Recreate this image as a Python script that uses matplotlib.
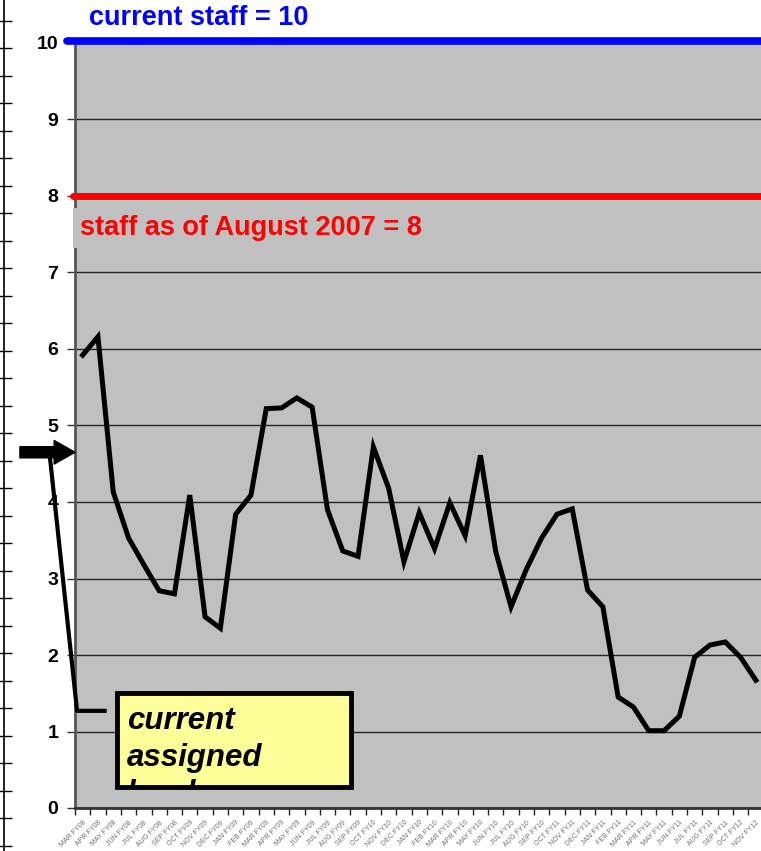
import numpy as np
import matplotlib
matplotlib.use('Agg')
import matplotlib.pyplot as plt
import matplotlib.transforms as mtransforms
from matplotlib.patches import Rectangle

plt.rcParams['font.family'] = ['Liberation Sans', 'DejaVu Sans']

# Monthly labels and assigned staff level
months = ['MAR FY08', 'APR FY08', 'MAY FY08', 'JUN FY08', 'JUL FY08', 'AUG FY08', 'SEP FY08',
          'OCT FY09', 'NOV FY09', 'DEC FY09', 'JAN FY09', 'FEB FY09', 'MAR FY09', 'APR FY09',
          'MAY FY09', 'JUN FY09', 'JUL FY09', 'AUG FY09', 'SEP FY09',
          'OCT FY10', 'NOV FY10', 'DEC FY10', 'JAN FY10', 'FEB FY10', 'MAR FY10', 'APR FY10',
          'MAY FY10', 'JUN FY10', 'JUL FY10', 'AUG FY10', 'SEP FY10',
          'OCT FY11', 'NOV FY11', 'DEC FY11', 'JAN FY11', 'FEB FY11', 'MAR FY11', 'APR FY11',
          'MAY FY11', 'JUN FY11', 'JUL FY11', 'AUG FY11', 'SEP FY11',
          'OCT FY12', 'NOV FY12']
staff = [5.92, 6.16, 4.13, 3.53, 3.18, 2.84, 2.80, 4.09, 2.50, 2.35, 3.84, 4.09, 5.22, 5.23,
         5.36, 5.24, 3.90, 3.36, 3.29, 4.72, 4.18, 3.22, 3.86, 3.39, 3.99, 3.56, 4.61, 3.35,
         2.63, 3.12, 3.53, 3.84, 3.91, 2.85, 2.63, 1.45, 1.32, 1.01, 1.01, 1.20, 1.97, 2.13,
         2.17, 1.97, 1.67]
current_staff = 10
aug2007_staff = 8
current_assigned = 4.65

fig = plt.figure(figsize=(7.61, 8.51), dpi=100)
ax = fig.add_axes([75 / 761, 43 / 851, 688.5 / 761, 765 / 851])
ax.set_facecolor('#C0C0C0')

x = np.arange(len(staff)) + 0.5
ax.plot(x, staff, color='black', lw=3.6, solid_joinstyle='miter', zorder=4)

ax.set_xlim(0, len(staff))
ax.set_ylim(0, 10)
ax.set_yticks(range(0, 11))
ax.set_yticklabels([str(i) for i in range(0, 11)], fontsize=14, fontweight='bold')
ax.tick_params(axis='y', length=6, width=1, pad=6, color='#333333')
ax.yaxis.grid(True, color='#222222', lw=1)
ax.set_axisbelow(True)

ax.set_xticks(np.arange(0, len(staff) + 1))
ax.set_xticklabels([])
ax.set_xticks(x, minor=True)
ax.set_xticklabels(months, minor=True, rotation=45, ha='right', va='top',
                   fontsize=5, color='#707070', rotation_mode='anchor')
ax.tick_params(axis='x', which='major', length=5, width=1, color='#222222')
ax.tick_params(axis='x', which='minor', length=0, pad=8)

for s in ['top', 'right']:
    ax.spines[s].set_visible(False)
ax.spines['left'].set_color('#555555')
ax.spines['left'].set_linewidth(2)
ax.spines['bottom'].set_color('#333333')
ax.spines['bottom'].set_linewidth(2)

blend = mtransforms.blended_transform_factory(ax.transAxes, ax.transData)

# reference lines
ax.plot([-0.012, 1.0], [current_staff + 0.03] * 2, transform=blend, color='#0000FF',
        lw=5.5, solid_capstyle='round', clip_on=False, zorder=6)
ax.plot([-0.003, 1.0], [aug2007_staff] * 2, transform=blend, color='#FF0000',
        lw=5, solid_capstyle='round', clip_on=False, zorder=6)

ax.text(0.02, 10.33, 'current staff = %d' % current_staff, transform=blend, color='#0000FF',
        fontsize=19.5, fontweight='bold', va='center', ha='left', clip_on=False)
ax.text(0.007, 7.58, 'staff as of August 2007 = %d' % aug2007_staff, transform=blend,
        color='#FF0000', fontsize=19.5, fontweight='bold', va='center', ha='left',
        bbox=dict(boxstyle='square,pad=0.25', fc='#C0C0C0', ec='none'), zorder=7)

# arrow to current assigned level
ax.annotate('', xy=(0.0, current_assigned), xytext=(-0.08, current_assigned),
            xycoords=blend, textcoords=blend, annotation_clip=False,
            arrowprops=dict(arrowstyle='simple,head_length=1.5,head_width=1.7,tail_width=0.8',
                            color='black', shrinkA=0, shrinkB=0))
ax.plot([-0.036, 0.003, 0.043], [4.55, 1.27, 1.27], transform=blend, color='black',
        lw=3, clip_on=False, zorder=5)

# callout box: fill, clipped text, then border on top
fill = Rectangle((0.061, 0.27), 0.34, 1.23, transform=blend, fc='#FFFF99', ec='none',
                 zorder=8, clip_on=False)
ax.add_patch(fill)
t = ax.text(0.075, 1.33, 'current\nassigned\nlevel', transform=blend, fontsize=22.5,
            fontweight='bold', fontstyle='italic', va='top', ha='left',
            linespacing=1.28, zorder=9, clip_on=True)
t.set_clip_path(fill)
ax.add_patch(Rectangle((0.061, 0.27), 0.34, 1.23, transform=blend, fc='none', ec='black',
                       lw=3.5, zorder=10, clip_on=False))

# stray axis at far left
axl = fig.add_axes([4 / 761, 0, 0.0005, 1])
axl.set_ylim(851, 0)
axl.set_xticks([])
axl.set_yticks(np.arange(20.7, 851, 27.5))
axl.set_yticklabels([])
axl.tick_params(axis='y', direction='inout', length=12, width=1, color='black')
for s in ['top', 'right', 'bottom']:
    axl.spines[s].set_visible(False)
axl.spines['left'].set_linewidth(1.2)
axl.patch.set_visible(False)

fig.savefig('out.png', dpi=100)
